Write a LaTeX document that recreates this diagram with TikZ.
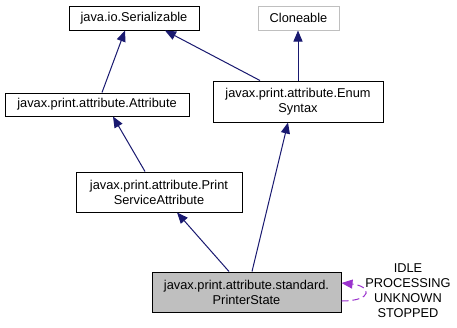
\documentclass[tikz,border=0pt]{standalone}
\usepackage{fontspec}
\setmainfont{Liberation Sans}
\usetikzlibrary{arrows.meta}
\definecolor{edgeblue}{HTML}{191970}
\definecolor{usepurple}{HTML}{9A32CD}
\definecolor{boxgray}{HTML}{BFBFBF}
\tikzset{
  cls/.style    ={draw=black,fill=white,align=center,inner sep=0pt,line width=1pt,
                  font=\fontsize{12.8}{15}\selectfont},
  ext/.style    ={cls,draw=boxgray},
  cur/.style    ={cls,fill=boxgray},
  inh/.style    ={-{Triangle[length=11pt,width=9pt]},edgeblue,line width=1pt},
  selfuse/.style={-{Triangle[length=11pt,width=9pt]},usepurple,line width=1pt,
                  dash pattern=on 7pt off 4pt},
  lbl/.style    ={align=center,inner sep=0pt,font=\fontsize{12.8}{15}\selectfont},
}
\begin{document}
\begin{tikzpicture}[x=1pt,y=-1pt]
  \useasboundingbox[fill=white] (0,0) rectangle (457,327);

  \node[cls,minimum width=130pt,minimum height=24pt] (ser) at (134,18)
    {java.io.Serializable};
  \node[ext,minimum width=81pt,minimum height=24pt] (clo) at (298.5,18)
    {Cloneable};
  \node[cls,minimum width=184pt,minimum height=23pt] (attr) at (97,104.5)
    {javax.print.attribute.Attribute};
  \node[cls,minimum width=170pt,minimum height=41pt] (enum) at (298,101.5)
    {javax.print.attribute.Enum\\Syntax};
  \node[cls,minimum width=166pt,minimum height=40pt] (psa) at (159,192)
    {javax.print.attribute.Print\\ServiceAttribute};
  \node[cur,minimum width=189pt,minimum height=40pt] (ps) at (246.5,292)
    {javax.print.attribute.standard.\\PrinterState};
  \node[lbl] (vals) at (408,290.5)
    {IDLE\\PROCESSING\\UNKNOWN\\STOPPED};

  \draw[inh] ([xshift=5pt]attr.north) -- ([xshift=-9pt]ser.south);
  \draw[inh] ([xshift=-38pt]enum.north) -- ([xshift=31pt]ser.south);
  \draw[inh] (enum.north) -- (enum.north |- clo.south);
  \draw[inh] ([xshift=-14pt]psa.north) -- ([xshift=16pt]attr.south);
  \draw[inh] ([xshift=-17.5pt]ps.north) -- ([xshift=18pt]psa.south);
  \draw[inh] ([xshift=5.5pt]ps.north) -- ([xshift=-10pt]enum.south);
  \draw[selfuse] ([yshift=-9pt]ps.east) .. controls +(32,0) and +(30,3) .. ([yshift=9pt]ps.east);
\end{tikzpicture}
\end{document}
